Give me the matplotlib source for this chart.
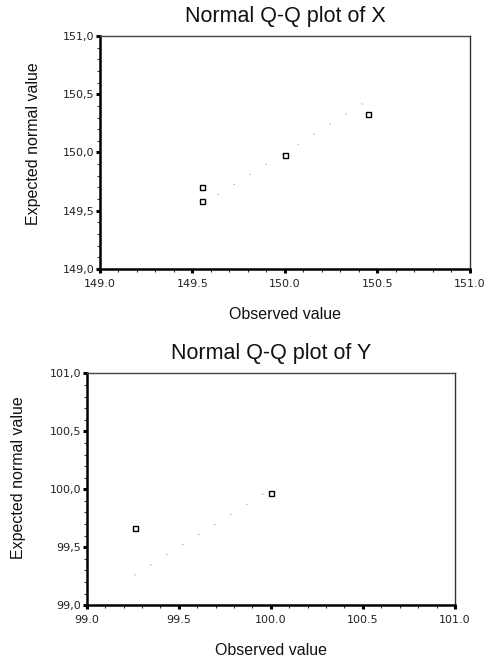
import matplotlib.pyplot as plt
from matplotlib.ticker import MultipleLocator, FuncFormatter

# Normal Q-Q plot of X
x_observed = [149.55, 149.55, 150.0, 150.45]
x_expected = [149.70, 149.58, 149.98, 150.33]
x_limits = (149.0, 151.0)

# Normal Q-Q plot of Y
y_observed = [99.26, 100.0]
y_expected = [99.67, 99.97]
y_limits = (99.0, 101.0)

titles = ['Normal Q-Q plot of X', 'Normal Q-Q plot of Y']
x_label = 'Observed value'
y_label = 'Expected normal value'

fig = plt.figure(figsize=(4.94, 6.57), dpi=100)

# axes placement
ax1 = fig.add_axes([0.2024, 0.5906, 0.749, 0.3546])
ax2 = fig.add_axes([0.1755, 0.0787, 0.7455, 0.3531])

panels = [
    (ax1, x_observed, x_expected, x_limits, titles[0], (-0.181, 0.54), -0.197),
    (ax2, y_observed, y_expected, y_limits, titles[1], (-0.1865, 0.55), -0.193),
]

for ax, obs, exp, lims, title, ylab_pos, xlab_y in panels:
    # faint dotted reference line y = x over the data range
    lo, hi = min(obs), max(obs)
    ax.plot([lo, hi], [lo, hi], color='0.6', linewidth=0.8,
            linestyle=(0, (1, 16)))
    ax.plot(obs, exp, linestyle='none', marker='s', markersize=3.6,
            markerfacecolor='white', markeredgecolor='black',
            markeredgewidth=1.0)

    ax.set_xlim(lims)
    ax.set_ylim(lims)
    ax.xaxis.set_major_locator(MultipleLocator(0.5))
    ax.yaxis.set_major_locator(MultipleLocator(0.5))
    ax.xaxis.set_minor_locator(MultipleLocator(0.1))
    ax.yaxis.set_minor_locator(MultipleLocator(0.1))
    ax.xaxis.set_major_formatter(FuncFormatter(lambda v, p: f'{v:.1f}'))
    ax.yaxis.set_major_formatter(FuncFormatter(lambda v, p: f'{v:.1f}'.replace('.', ',')))

    ax.tick_params(axis='both', which='major', direction='out', length=3,
                   width=2.2, labelsize=8, color='black', labelcolor='#222222')
    ax.tick_params(axis='x', which='major', pad=4)
    ax.tick_params(axis='y', which='major', pad=1)
    ax.tick_params(axis='both', which='minor', direction='out', length=2.5,
                   width=0.8, color='#333333')

    for lbl in ax.get_xticklabels() + ax.get_yticklabels():
        lbl.set_family('DejaVu Sans')

    ax.spines['left'].set_linewidth(1.8)
    ax.spines['bottom'].set_linewidth(1.8)
    ax.spines['top'].set_linewidth(1.0)
    ax.spines['right'].set_linewidth(1.0)
    ax.spines['top'].set_color('#444444')
    ax.spines['right'].set_color('#333333')

    ax.set_title(title, fontsize=15.5, family='Liberation Sans', pad=10,
                 color='#111111')
    ax.set_xlabel(x_label, fontsize=11.5, family='Liberation Sans',
                  color='#111111')
    ax.set_ylabel(y_label, fontsize=11.5, family='Liberation Sans',
                  color='#111111')
    ax.xaxis.set_label_coords(0.5, xlab_y)
    ax.yaxis.set_label_coords(*ylab_pos)
    # label coords refer to the label centre
    ax.xaxis.label.set_va('center')
    ax.yaxis.label.set_va('center')

fig.savefig('out.png', dpi=100)
